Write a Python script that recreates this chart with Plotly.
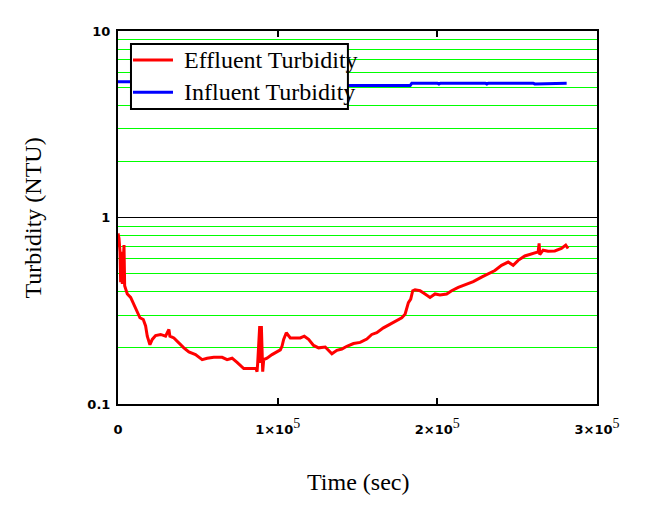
import plotly.graph_objects as go

# Effluent turbidity
eff_t = [0, 625, 1250, 1667, 2083, 2708, 3750, 4167, 4792, 5833, 7917, 10000, 12083,
         13750, 15833, 17292, 18333, 20000, 21458, 23542, 26667, 29792, 31875, 32500,
         35000, 38125, 41250, 44375, 48542, 52708, 55833, 60000, 65208, 68333, 71458,
         74583, 78750, 82917, 86458, 87083, 87500, 88750, 89167, 89792, 90625, 91250,
         93333, 96458, 99583, 101667, 102708, 103750, 105417, 107917, 111042, 114167,
         116667, 119375, 122500, 125625, 129792, 132917, 133958, 137083, 140208, 143333,
         147500, 151667, 155833, 158958, 162083, 166250, 170417, 174583, 177708, 179792,
         180833, 181875, 183333, 184583, 186042, 189167, 192292, 195417, 198542, 201667,
         205833, 208958, 213125, 217292, 222500, 227708, 231875, 236042, 240208, 244375,
         247500, 250625, 254792, 258958, 263125, 263750, 264167, 266250, 269375, 273542,
         277708, 280417, 281875]
eff_v = [0.822, 0.772, 0.654, 0.450, 0.654, 0.440, 0.711, 0.431, 0.414, 0.389, 0.373,
         0.343, 0.315, 0.290, 0.284, 0.262, 0.231, 0.208, 0.222, 0.233, 0.236, 0.231,
         0.251, 0.231, 0.226, 0.212, 0.200, 0.190, 0.184, 0.173, 0.176, 0.178, 0.178,
         0.173, 0.176, 0.167, 0.155, 0.155, 0.155, 0.149, 0.166, 0.262, 0.166, 0.262,
         0.149, 0.173, 0.176, 0.184, 0.191, 0.195, 0.204, 0.222, 0.241, 0.226, 0.226,
         0.226, 0.231, 0.222, 0.206, 0.200, 0.202, 0.191, 0.186, 0.194, 0.197, 0.204,
         0.211, 0.214, 0.223, 0.236, 0.241, 0.256, 0.267, 0.279, 0.290, 0.303, 0.322,
         0.350, 0.365, 0.405, 0.410, 0.405, 0.389, 0.373, 0.389, 0.384, 0.389, 0.405,
         0.422, 0.435, 0.453, 0.479, 0.499, 0.520, 0.554, 0.577, 0.554, 0.589, 0.622,
         0.640, 0.654, 0.726, 0.633, 0.668, 0.660, 0.662, 0.682, 0.711, 0.682]

# Influent turbidity
inf_t = [0, 8000, 9000, 20000, 25000, 183000, 184000, 200000, 201000, 202000, 230000,
         231000, 232000, 260000, 261000, 281000]
inf_v = [5.35, 5.35, 5.22, 5.22, 5.1, 5.1, 5.25, 5.25, 5.2, 5.25, 5.25, 5.2, 5.25,
         5.25, 5.2, 5.25]

series_names = ["Effluent Turbidity", "Influent Turbidity"]
series_colors = ["#ff0000", "#0000ff"]

SUP = "<sup><span style='font-family:Liberation Serif;font-size:14px;font-weight:normal'>5</span></sup>"
x_tickvals = [0, 100000, 200000, 300000]
x_ticktext = ["<b>0</b>", "<b>1×10</b>" + SUP, "<b>2×10</b>" + SUP, "<b>3×10</b>" + SUP]
y_tickvals = [0.1, 1, 10]
y_ticktext = ["<b>0.1</b>", "<b>1</b>", "<b>10</b>"]
y_minor = [0.2, 0.3, 0.4, 0.5, 0.6, 0.7, 0.8, 0.9, 2, 3, 4, 5, 6, 7, 8, 9]

fig = go.Figure()
fig.add_trace(go.Scatter(x=eff_t, y=eff_v, mode="lines", name=series_names[0],
                         line=dict(color=series_colors[0], width=3), showlegend=False))
fig.add_trace(go.Scatter(x=inf_t, y=inf_v, mode="lines", name=series_names[1],
                         line=dict(color=series_colors[1], width=3), showlegend=False))

# legend box drawn as layout shapes + text annotations (text overflows the box as in the reference)
shapes = [dict(type="rect", xref="paper", yref="paper", x0=0.0271, x1=0.480,
               y0=0.791, y1=0.965, fillcolor="white", line=dict(color="black", width=2),
               layer="above")]
annotations = []
row_y = [0.922, 0.836]
for name, color, ry in zip(series_names, series_colors, row_y):
    shapes.append(dict(type="line", xref="paper", yref="paper", x0=0.0313, x1=0.1148,
                       y0=ry, y1=ry, line=dict(color=color, width=3), layer="above"))
    annotations.append(dict(text=name, x=0.1336, y=ry, xref="paper", yref="paper",
                            xanchor="left", yanchor="middle", showarrow=False,
                            font=dict(family="Liberation Serif", size=24, color="black")))

annotations += [
    dict(text="Time (sec)", x=0.501, y=-0.21, xref="paper", yref="paper",
         xanchor="center", yanchor="middle",
         showarrow=False, font=dict(family="Liberation Serif", size=24)),
    dict(text="Turbidity (NTU)", x=-0.1775, y=0.5, xref="paper", yref="paper",
         xanchor="center", yanchor="middle",
         showarrow=False, textangle=-90,
         font=dict(family="Liberation Serif", size=24)),
]

fig.update_layout(
    width=660, height=501,
    margin=dict(l=110, r=71, t=23, b=105),
    paper_bgcolor="white", plot_bgcolor="white",
    font=dict(family="Liberation Serif", color="black"),
    showlegend=False,
    shapes=shapes,
    annotations=annotations,
)
fig.update_xaxes(range=[0, 300000], tickvals=x_tickvals, ticktext=x_ticktext,
                 showgrid=False, zeroline=False, showline=True, linecolor="black",
                 linewidth=2, mirror="ticks", ticks="inside", ticklen=6, tickwidth=2,
                 tickcolor="black", ticklabelstandoff=12,
                 tickfont=dict(family="DejaVu Sans", size=13, color="black"))
fig.update_yaxes(type="log", range=[-1, 1], tickvals=y_tickvals, ticktext=y_ticktext,
                 showgrid=True, gridcolor="black", gridwidth=1,
                 zeroline=False, showline=True, linecolor="black", linewidth=2,
                 mirror=True, ticks="", ticklabelstandoff=3,
                 tickfont=dict(family="DejaVu Sans", size=13, color="black"),
                 minor=dict(tickvals=y_minor, showgrid=True, gridcolor="#00ff00",
                            gridwidth=1, ticks=""))

fig.write_html("out.html")
